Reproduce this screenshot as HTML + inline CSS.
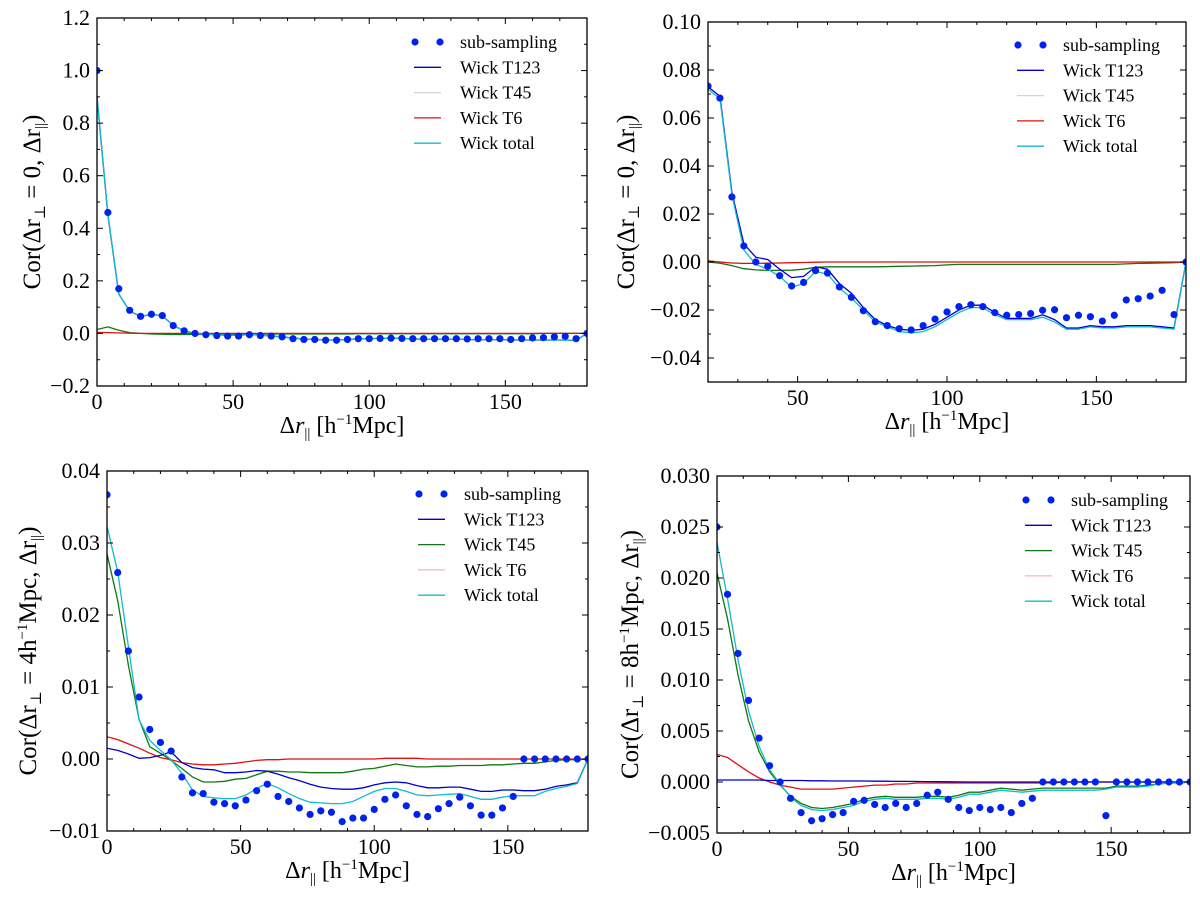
<!DOCTYPE html>
<html><head><meta charset="utf-8"><style>
html,body{margin:0;padding:0;background:#fff;}
svg{display:block;font-family:"Liberation Serif","DejaVu Serif",serif;}
</style></head><body>
<svg id="fig" width="1200" height="900" viewBox="0 0 1200 900" xmlns="http://www.w3.org/2000/svg"></svg>
<script>
// ---------- data ----------
const xsFull = [0,4,8,12,16,20,24,28,32,36,40,44,48,52,56,60,64,68,72,76,80,84,88,92,96,100,104,108,112,116,120,124,128,132,136,140,144,148,152,156,160,164,168,172,176,180];
const xsP2 = [20,24,28,32,36,40,44,48,52,56,60,64,68,72,76,80,84,88,92,96,100,104,108,112,116,120,124,128,132,136,140,144,148,152,156,160,164,168,172,176,180];

// Panel 1
const p1Sub = [1.0,0.46,0.17,0.088,0.065,0.073,0.068,0.03,0.01,0.0,-0.005,-0.008,-0.01,-0.01,-0.005,-0.008,-0.01,-0.013,-0.02,-0.023,-0.023,-0.026,-0.026,-0.023,-0.02,-0.02,-0.019,-0.018,-0.019,-0.02,-0.02,-0.02,-0.02,-0.02,-0.021,-0.02,-0.02,-0.02,-0.023,-0.02,-0.017,-0.016,-0.013,-0.011,-0.02,0.0];
const p1Total = [0.9,0.45,0.15,0.085,0.065,0.072,0.068,0.03,0.01,0.0,-0.003,-0.005,-0.007,-0.007,-0.004,-0.006,-0.01,-0.013,-0.018,-0.021,-0.023,-0.025,-0.025,-0.023,-0.02,-0.02,-0.019,-0.018,-0.019,-0.021,-0.022,-0.022,-0.022,-0.022,-0.023,-0.024,-0.024,-0.024,-0.025,-0.025,-0.025,-0.025,-0.025,-0.025,-0.026,0.0];
const p1T123 = [0.9,0.45,0.15,0.085,0.065,0.072,0.068,0.03,0.01,0.0,-0.003,-0.005,-0.007,-0.007,-0.004,-0.006,-0.01,-0.013,-0.018,-0.021,-0.023,-0.025,-0.025,-0.023,-0.02,-0.02,-0.019,-0.018,-0.019,-0.021,-0.022,-0.022,-0.022,-0.022,-0.023,-0.024,-0.024,-0.024,-0.025,-0.025,-0.025,-0.025,-0.025,-0.025,-0.026,0.0];
const p1T45 = [0.015,0.025,0.012,0.003,0.0,-0.002,-0.003,-0.004,-0.004,-0.004,-0.004,-0.003,-0.003,-0.003,-0.002,-0.002,-0.002,-0.002,-0.002,-0.002,-0.002,-0.002,-0.002,-0.002,-0.001,-0.001,-0.001,-0.001,-0.001,-0.001,-0.001,-0.001,-0.001,-0.001,-0.001,-0.001,-0.001,-0.001,-0.001,-0.001,-0.001,0.0,0.0,0.0,0.0,0.0];
const p1T6 = [0.004,0.003,0.002,0.001,0.0,0.0,0.0,0.0,0.0,0.0,0.0,0.0,0.0,0.0,0.0,0.0,0.0,0.0,0.0,0.0,0.0,0.0,0.0,0.0,0.0,0.0,0.0,0.0,0.0,0.0,0.0,0.0,0.0,0.0,0.0,0.0,0.0,0.0,0.0,0.0,0.0,0.0,0.0,0.0,0.0,0.0];

// Panel 2
const p2Sub = [0.0733,0.0683,0.0271,0.0067,0.0,-0.0018,-0.0057,-0.010,-0.0085,-0.0036,-0.0046,-0.0104,-0.0147,-0.0203,-0.0249,-0.0265,-0.0278,-0.0283,-0.0265,-0.0238,-0.0208,-0.0186,-0.0178,-0.0186,-0.0211,-0.0222,-0.0219,-0.0215,-0.0201,-0.0199,-0.0232,-0.0222,-0.0228,-0.0246,-0.0222,-0.0158,-0.0153,-0.0142,-0.0118,-0.0219,0.0];
const p2Total = [0.072,0.068,0.028,0.005,-0.001,-0.003,-0.006,-0.0105,-0.009,-0.004,-0.005,-0.011,-0.015,-0.020,-0.025,-0.027,-0.029,-0.0295,-0.029,-0.027,-0.024,-0.021,-0.019,-0.019,-0.022,-0.024,-0.024,-0.024,-0.023,-0.025,-0.028,-0.028,-0.027,-0.0275,-0.0275,-0.027,-0.027,-0.027,-0.0275,-0.028,0.0];
const p2T123 = [0.073,0.069,0.029,0.0075,0.002,0.001,-0.003,-0.0065,-0.006,-0.002,-0.003,-0.009,-0.013,-0.019,-0.024,-0.0265,-0.028,-0.0285,-0.028,-0.026,-0.023,-0.020,-0.018,-0.018,-0.021,-0.0235,-0.0235,-0.0235,-0.022,-0.024,-0.0275,-0.0275,-0.0265,-0.027,-0.027,-0.0265,-0.0265,-0.0265,-0.027,-0.0275,0.0];
const p2T45 = [0.0,-0.0005,-0.0015,-0.0028,-0.0033,-0.0035,-0.0035,-0.0034,-0.003,-0.0022,-0.002,-0.002,-0.002,-0.002,-0.002,-0.0019,-0.0018,-0.0017,-0.0016,-0.0015,-0.0012,-0.001,-0.001,-0.001,-0.001,-0.001,-0.001,-0.001,-0.001,-0.001,-0.001,-0.001,-0.001,-0.001,-0.001,-0.0008,-0.0006,-0.0005,-0.0004,-0.0003,0.0];
const p2T6 = [0.0005,0.0,-0.0004,-0.0006,-0.0006,-0.0005,-0.0004,-0.0003,-0.0002,-0.0001,0.0,0.0,0.0,0.0,0.0,0.0,0.0,0.0,0.0,0.0,0.0,0.0,0.0,0.0,0.0,0.0,0.0,0.0,0.0,0.0,0.0,0.0,0.0,0.0,0.0,0.0,0.0,0.0,0.0,0.0,0.0];

// Panel 3
const p3Sub = [0.0367,0.0259,0.015,0.0086,0.0041,0.0023,0.0011,-0.0025,-0.0047,-0.0048,-0.006,-0.0062,-0.0065,-0.0057,-0.0044,-0.0035,-0.0052,-0.0059,-0.0068,-0.0077,-0.0072,-0.0074,-0.0087,-0.0082,-0.0082,-0.007,-0.0056,-0.005,-0.0065,-0.0077,-0.008,-0.0069,-0.0062,-0.0053,-0.0065,-0.0078,-0.0078,-0.0068,-0.0052,0.0,0.0,0.0,0.0,0.0,0.0,0.0];
const p3Total = [0.0323,0.026,0.0156,0.0054,0.0026,0.0012,-0.0001,-0.002,-0.0043,-0.0052,-0.0054,-0.0055,-0.0055,-0.005,-0.0041,-0.0034,-0.004,-0.0048,-0.0055,-0.006,-0.0061,-0.0062,-0.0062,-0.0059,-0.0052,-0.0045,-0.0041,-0.0041,-0.0045,-0.005,-0.0051,-0.005,-0.0049,-0.0048,-0.0052,-0.0056,-0.0056,-0.0053,-0.0051,-0.0051,-0.0051,-0.0045,-0.0041,-0.0038,-0.0034,0.0];
const p3T123 = [0.0015,0.0012,0.0007,0.0001,0.0002,0.0005,0.001,-0.0005,-0.0012,-0.0014,-0.0015,-0.0019,-0.0019,-0.0018,-0.0016,-0.0017,-0.0021,-0.0026,-0.003,-0.0035,-0.0039,-0.0041,-0.0042,-0.0042,-0.004,-0.0036,-0.0033,-0.0032,-0.0033,-0.0037,-0.004,-0.004,-0.0039,-0.0039,-0.0042,-0.0045,-0.0045,-0.0043,-0.0043,-0.0044,-0.0044,-0.0042,-0.0038,-0.0036,-0.0033,0.0];
const p3T45 = [0.0285,0.022,0.013,0.0055,0.0017,0.0008,-0.0002,-0.0013,-0.0025,-0.0032,-0.0032,-0.0031,-0.0028,-0.0027,-0.0022,-0.0017,-0.0017,-0.0018,-0.0018,-0.0019,-0.0019,-0.0019,-0.0019,-0.0017,-0.0014,-0.0013,-0.001,-0.0007,-0.0009,-0.0011,-0.0011,-0.001,-0.001,-0.0009,-0.0009,-0.0009,-0.0008,-0.0008,-0.0007,-0.0006,-0.0006,-0.0004,-0.0002,-0.0001,-0.0001,0.0];
const p3T6 = [0.0031,0.0027,0.0021,0.0015,0.0008,0.0002,-0.0001,-0.0005,-0.0007,-0.0008,-0.0008,-0.0007,-0.0006,-0.0004,-0.0002,-0.0001,-0.0001,0.0,0.0,0.0,0.0,0.0,0.0,0.0,0.0,0.0,0.0001,0.0001,0.0001,0.0001,0.0,0.0,0.0,0.0,0.0,0.0,0.0,0.0,0.0,0.0,0.0,0.0,0.0,0.0,0.0,0.0];

// Panel 4
const p4Sub = [0.025,0.0184,0.0126,0.008,0.0043,0.0016,0.0,-0.0016,-0.003,-0.0038,-0.0036,-0.0032,-0.003,-0.0019,-0.0018,-0.0022,-0.0025,-0.0021,-0.0025,-0.0021,-0.0013,-0.001,-0.0017,-0.0025,-0.0028,-0.0025,-0.0027,-0.0025,-0.003,-0.0021,-0.0016,0.0,0.0,0.0,0.0,0.0,0.0,-0.0033,0.0,0.0,0.0,0.0,0.0,0.0,0.0,0.0];
const p4Total = [0.0235,0.018,0.012,0.007,0.0035,0.0012,-0.0002,-0.0015,-0.0023,-0.0027,-0.0028,-0.0027,-0.0025,-0.0023,-0.0019,-0.0017,-0.0016,-0.0017,-0.0017,-0.0017,-0.0016,-0.0016,-0.0017,-0.0015,-0.0012,-0.0012,-0.001,-0.0008,-0.0009,-0.001,-0.0009,-0.0008,-0.0008,-0.0008,-0.0008,-0.0008,-0.0008,-0.0007,-0.0005,-0.0005,-0.0005,-0.0004,-0.0002,-0.0001,-0.0001,0.0];
const p4T123 = [0.0002,0.0002,0.0002,0.0002,0.0002,0.00015,0.00015,0.00015,0.00015,0.00012,0.00012,0.0001,0.0001,0.0001,0.0001,0.00008,0.00008,0.00006,0.00006,0.00005,0.00004,0.00003,0.00002,0.00001,0.0,0.0,0.0,0.0,0.0,0.0,0.0,0.0,0.0,0.0,0.0,0.0,0.0,0.0,0.0,0.0,0.0,0.0,0.0,0.0,0.0,0.0];
const p4T45 = [0.0205,0.016,0.0105,0.006,0.003,0.001,-0.0003,-0.0014,-0.0021,-0.0025,-0.0026,-0.0025,-0.0023,-0.0021,-0.0017,-0.0015,-0.0014,-0.0015,-0.0015,-0.0015,-0.0014,-0.0014,-0.0015,-0.0013,-0.001,-0.001,-0.0008,-0.0006,-0.0007,-0.0008,-0.0007,-0.0006,-0.0006,-0.0006,-0.0006,-0.0006,-0.0006,-0.0006,-0.0004,-0.0004,-0.0004,-0.0003,-0.0002,-0.0001,-0.0001,0.0];
const p4T6 = [0.0027,0.0024,0.0017,0.001,0.0004,0.0,-0.0003,-0.0005,-0.0007,-0.0007,-0.0007,-0.0007,-0.0006,-0.0005,-0.0004,-0.0003,-0.0003,-0.0002,-0.0002,-0.0001,-0.0001,-0.0001,-0.0001,-0.0001,-0.0001,-0.0001,-0.0001,-0.0001,-0.0001,-0.0001,-0.0001,-0.0001,-0.0001,0.0,0.0,0.0,0.0,0.0,0.0,0.0,0.0,0.0,0.0,0.0,0.0,0.0];

// tick labels
const p1YTicks = [-0.2,0.0,0.2,0.4,0.6,0.8,1.0,1.2];
const p1YLabels = ["\u22120.2","0.0","0.2","0.4","0.6","0.8","1.0","1.2"];
const p2YTicks = [-0.04,-0.02,0.0,0.02,0.04,0.06,0.08,0.10];
const p2YLabels = ["\u22120.04","\u22120.02","0.00","0.02","0.04","0.06","0.08","0.10"];
const p3YTicks = [-0.01,0.0,0.01,0.02,0.03,0.04];
const p3YLabels = ["\u22120.01","0.00","0.01","0.02","0.03","0.04"];
const p4YTicks = [-0.005,0.0,0.005,0.010,0.015,0.020,0.025,0.030];
const p4YLabels = ["\u22120.005","0.000","0.005","0.010","0.015","0.020","0.025","0.030"];
const xTicksA = [0,50,100,150];
const xTicksB = [50,100,150];

// ---------- drawing ----------
const NS = "http://www.w3.org/2000/svg";
const svg = document.getElementById("fig");
function mk(tag, attrs, parent){
  const e = document.createElementNS(NS, tag);
  for (const k in attrs) e.setAttribute(k, attrs[k]);
  (parent || svg).appendChild(e);
  return e;
}
const COL = {sub:"#0022ee", t123:"#0000cc", t45:"#117711", t6:"#dd1111", tot:"#11bbcc"};

function panel(cfg){
  const g = mk("g", {});
  
  
  const L=cfg.L,R=cfg.R,T=cfg.T,B=cfg.B;
  const sx = v => L + (v - cfg.x0)/(cfg.x1 - cfg.x0)*(R-L);
  const sy = v => B - (v - cfg.y0)/(cfg.y1 - cfg.y0)*(B-T);
  const cid = cfg.name + "-clip";
  const cp = mk("clipPath", {id:cid}, g);
  mk("rect", {x:L, y:T, width:R-L, height:B-T}, cp);
  const plot = mk("g", {"clip-path":"url(#"+cid+")"}, g);
  const tg = mk("g", {stroke:"#000","stroke-width":1}, g);
  
  
  for (let v = Math.ceil(cfg.x0/10)*10; v <= cfg.x1+1e-9; v += 10){
    const x = sx(v), len = (v % 50 === 0) ? 6 : 3;
    mk("line",{x1:x,x2:x,y1:B,y2:B-len},tg); mk("line",{x1:x,x2:x,y1:T,y2:T+len},tg);
  }
  for (let i=0;i<=Math.round((cfg.y1-cfg.y0)/cfg.minor);i++){
    const v = cfg.y0 + i*cfg.minor, y = sy(v);
    const major = Math.abs(Math.round((v-cfg.yMajBase)/cfg.major)*cfg.major - (v-cfg.yMajBase)) < cfg.minor*0.1;
    const len = major ? 6 : 3;
    mk("line",{x1:L,x2:L+len,y1:y,y2:y},tg); mk("line",{x1:R,x2:R-len,y1:y,y2:y},tg);
  }
  const series = [
    [cfg.t45, COL.t45, "wick-t45-line"],
    [cfg.t6, COL.t6, "wick-t6-line"],
    [cfg.t123, COL.t123, "wick-t123-line"],
    [cfg.tot, COL.tot, "wick-total-line"]
  ];
  series.forEach(s=>{
    const d = s[0].map((v,i)=> (i?"L":"M") + sx(cfg.xs[i]).toFixed(1) + "," + sy(v).toFixed(1)).join(" ");
    const p = mk("path",{d:d, fill:"none", stroke:s[1], "stroke-width":1.3}, plot);
    
    
  });
  cfg.sub.forEach((v,i)=>{
    const c = mk("circle",{cx:sx(cfg.xs[i]), cy:sy(v), r:3.6, fill:COL.sub}, plot);
    
    
  });
  const fr = mk("rect",{x:L,y:T,width:R-L,height:B-T,fill:"none",stroke:"#000","stroke-width":1.3}, g);
  
  
  cfg.yTicks.forEach((v,i)=>{
    const t = mk("text",{x:L-7, y:sy(v)+7, "text-anchor":"end", "font-size":22}, g);
    t.textContent = cfg.yLabels[i];
    
    
  });
  cfg.xTicks.forEach(v=>{
    const t = mk("text",{x:sx(v), y:B+23, "text-anchor":"middle", "font-size":22}, g);
    t.textContent = String(v);
    
    
  });
  const xt = mk("text",{x:(L+R)/2, y:B+47, "text-anchor":"middle", "font-size":24}, g);
  
  
  xt.innerHTML = 'Δ<tspan font-style="italic">r</tspan><tspan font-size="15" dy="5">||</tspan><tspan dy="-5"> [h</tspan><tspan font-size="15" dy="-9">−1</tspan><tspan dy="9">Mpc]</tspan>';
  const yt = mk("text",{x:0, y:0, "text-anchor":"middle", "font-size":25, transform:"translate("+cfg.ytx+","+((T+B)/2)+") rotate(-90)"}, g);
  
  
  yt.innerHTML = cfg.ytitle;
  const lg = mk("g",{}, g);
  
  
  const names = ["sub-sampling","Wick T123","Wick T45","Wick T6","Wick total"];
  const lcol = [COL.sub, COL.t123, cfg.legT45, cfg.legT6, COL.tot];
  names.forEach((n,i)=>{
    const y = cfg.legY + i*25.3;
    if (i===0){
      mk("circle",{cx:cfg.legX, cy:y, r:3.6, fill:COL.sub}, lg);
      mk("circle",{cx:cfg.legX+25, cy:y, r:3.6, fill:COL.sub}, lg);
    } else {
      mk("line",{x1:cfg.legX-1, x2:cfg.legX+26, y1:y, y2:y, stroke:lcol[i], "stroke-width":1.3}, lg);
    }
    const t = mk("text",{x:cfg.legX+45, y:y+6, "font-size":18}, lg);
    t.textContent = n;
    
    
  });
}

const corPre = 'Cor(Δr<tspan font-size="15" dy="5">⊥</tspan><tspan dy="-5"> = ';
const corPost = ', Δr</tspan><tspan font-size="15" dy="5">||</tspan><tspan dy="-5">)</tspan>';

panel({name:"panel-top-left", L:97,R:587,T:18,B:386, x0:0,x1:180, y0:-0.2,y1:1.2, minor:0.1, major:0.2, yMajBase:-0.2,
  xs:xsFull, sub:p1Sub, tot:p1Total, t123:p1T123, t45:p1T45, t6:p1T6,
  yTicks:p1YTicks, yLabels:p1YLabels, xTicks:xTicksA, ytx:40,
  ytitle: corPre + '0' + corPost, legX:415, legY:42, legT45:"#cfd8cf", legT6:COL.t6});
panel({name:"panel-top-right", L:708,R:1186,T:22,B:382, x0:20,x1:180, y0:-0.05,y1:0.10, minor:0.01, major:0.02, yMajBase:0.0,
  xs:xsP2, sub:p2Sub, tot:p2Total, t123:p2T123, t45:p2T45, t6:p2T6,
  yTicks:p2YTicks, yLabels:p2YLabels, xTicks:xTicksB, ytx:634,
  ytitle: corPre + '0' + corPost, legX:1018, legY:45, legT45:"#cfd8cf", legT6:COL.t6});
panel({name:"panel-bottom-left", L:107,R:588,T:471,B:831, x0:0,x1:180, y0:-0.01,y1:0.04, minor:0.005, major:0.01, yMajBase:0.0,
  xs:xsFull, sub:p3Sub, tot:p3Total, t123:p3T123, t45:p3T45, t6:p3T6,
  yTicks:p3YTicks, yLabels:p3YLabels, xTicks:xTicksA, ytx:36,
  ytitle: corPre + '4h<tspan font-size="15" dy="-9">−1</tspan><tspan dy="9">Mpc</tspan>' + corPost, legX:419, legY:494, legT45:COL.t45, legT6:"#f3b8b8"});
panel({name:"panel-bottom-right", L:717,R:1190,T:476,B:833, x0:0,x1:180, y0:-0.005,y1:0.030, minor:0.0025, major:0.005, yMajBase:0.0,
  xs:xsFull, sub:p4Sub, tot:p4Total, t123:p4T123, t45:p4T45, t6:p4T6,
  yTicks:p4YTicks, yLabels:p4YLabels, xTicks:xTicksA, ytx:638,
  ytitle: corPre + '8h<tspan font-size="15" dy="-9">−1</tspan><tspan dy="9">Mpc</tspan>' + corPost, legX:1026, legY:500, legT45:COL.t45, legT6:"#f3b8b8"});
</script>
</body></html>
